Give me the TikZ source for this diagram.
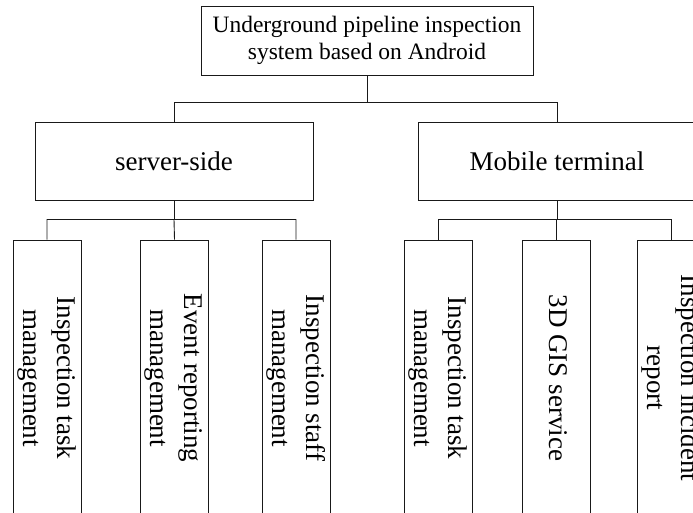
\documentclass[tikz,border=0pt]{standalone}
\usepackage{fontspec}
\setmainfont{Liberation Serif}
\usepackage{graphicx}
\usepackage{tikz}
\usetikzlibrary{positioning}
\tikzset{
x=1pt, y=-1pt, % one unit is one pixel of the picture, y runs down
every node/.style={draw=black!90, line width=0.9pt, inner sep=0pt}, % plain boxes
topbox/.style={minimum width=332pt, minimum height=69pt, align=center, font=\fontsize{23.5}{27}\selectfont}, % the system box
midbox/.style={minimum width=278pt, minimum height=78pt, font=\fontsize{27}{33}\selectfont}, % the two sides
leafbox/.style={minimum width=68pt, minimum height=276pt, font=\fontsize{27}{34}\selectfont}, % the modules, text turned
link/.style={draw=black!90, line width=0.9pt}, % connectors
}
\newcommand{\vtext}[1]{\rotatebox{-90}{\begin{tabular}{@{}c@{}}#1\end{tabular}}}

\begin{document}
\begin{tikzpicture}

            \useasboundingbox (0,0) rectangle (693,513);
            \clip (0,0) rectangle (693,513);

            \node[topbox] (root) at (367,40.5) {Underground pipeline inspection\\system based on Android};
            \node[midbox] (server) at (174,161) {server-side};
            \node[midbox] (mobile) at (557,161) {Mobile terminal};

            \node[leafbox] (s1) at (47,378) {\vtext{Inspection task\\management}};
            \node[leafbox] (s2) at (174.5,378) {\vtext{Event reporting\\management}};
            \node[leafbox] (s3) at (296,378) {\vtext{Inspection staff\\management}};
            \node[leafbox] (m1) at (438.5,378) {\vtext{Inspection task\\management}};
            \node[leafbox] (m2) at (556,378) {\vtext{3D GIS service}};
            \node[leafbox] (m3) at (671,378) {\vtext{Inspection incident\\report}};

            \draw[link] (root.south) -- ++(0,27) coordinate (j0);
            \draw[link] (j0) -| (server.north)
                        (j0) -| (mobile.north);

            \draw[link] (server.south) -- ++(0,19) coordinate (j1);
            \draw[link] (j1) -| (s1.north)
                        (j1) -- (s2.north)
                        (j1) -| (s3.north);

            \draw[link] (mobile.south) -- ++(0,19) coordinate (j2);
            \draw[link] (j2) -| (m1.north)
                        (j2) -| (m2.north)
                        (j2) -| (m3.north);
        \end{tikzpicture}
\end{document}
